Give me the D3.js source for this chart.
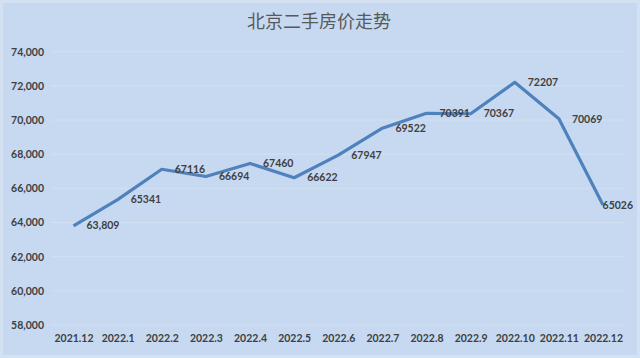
<!DOCTYPE html>
<html><head><meta charset="utf-8">
<script src="https://cdn.jsdelivr.net/npm/d3@7"></script>
<style>html,body{margin:0;padding:0;background:#c6d9f0;}svg{display:block;}</style>
</head><body>
<svg id="c" width="640" height="358"></svg>
<script>
const title = "北京二手房价走势";
const categories = ["2021.12","2022.1","2022.2","2022.3","2022.4","2022.5","2022.6","2022.7","2022.8","2022.9","2022.10","2022.11","2022.12"];
const prices = [63809,65341,67116,66694,67460,66622,67947,69522,70391,70367,72207,70069,65026];
const pointLabels = ["63,809","65341","67116","66694","67460","66622","67947","69522","70391","70367","72207","70069","65026"];
const yTicks = [58000,60000,62000,64000,66000,68000,70000,72000,74000];

const svg = d3.select("#c");
const W = 640, H = 358;
const font = "Lato, 'Open Sans', sans-serif";

svg.append("rect").attr("x",0).attr("y",0).attr("width",W).attr("height",H).attr("fill","#c6d9f0");
svg.append("rect").attr("x",1.5).attr("y",1.5).attr("width",W-3).attr("height",H-3)
  .attr("fill","none").attr("stroke","#d3e1f3").attr("stroke-width",3);

const x = d3.scalePoint().domain(categories).range([73.5, 603]);
const y = d3.scaleLinear().domain([58000,74000]).range([325,51.7]);

// gridlines
svg.append("g").selectAll("line").data(yTicks).join("line")
  .attr("x1",51.5).attr("x2",625)
  .attr("y1",d=>y(d)).attr("y2",d=>y(d))
  .attr("stroke","#d2e0f2").attr("stroke-width",1);

// y axis
const yAxis = d3.axisLeft(y).tickValues(yTicks).tickSize(0).tickPadding(0).tickFormat(d3.format(","));
const gy = svg.append("g").attr("transform","translate(44,0)").call(yAxis);
gy.select(".domain").remove();
gy.selectAll("text").attr("fill","#404040").style("font-family",font).style("font-size","10.5px").style("font-weight","700");

// x axis
const xAxis = d3.axisBottom(x).tickSize(0).tickPadding(0);
const gx = svg.append("g").attr("transform","translate(0,335)").call(xAxis);
gx.select(".domain").remove();
gx.selectAll("text").attr("fill","#404040").style("font-family",font).style("font-size","10.5px").style("font-weight","700");

// line
const line = d3.line().x((d,i)=>x(categories[i])).y(d=>y(d));
svg.append("path").datum(prices).attr("d",line)
  .attr("fill","none").attr("stroke","#4f81bd").attr("stroke-width",3.2).attr("stroke-linejoin","round");

// labels
svg.append("g").selectAll("text").data(prices).join("text")
  .attr("y",d=>y(d))
  .attr("dy","0.35em")
  .attr("fill","#404040")
  .style("font-family",font).style("font-size","10.5px").style("font-weight","700")
  .text((d,i)=>pointLabels[i])
  .attr("x",function(d,i){
    const w = this.getComputedTextLength();
    return Math.min(x(categories[i])+13, 633 - w);
  });

// title
svg.append("text").attr("x",319).attr("y",22).attr("text-anchor","middle").attr("dy","0.35em")
  .attr("fill","#595959").style("font-family","'Noto Sans CJK SC', sans-serif").style("font-size","18px")
  .text(title);
</script>
</body></html>
